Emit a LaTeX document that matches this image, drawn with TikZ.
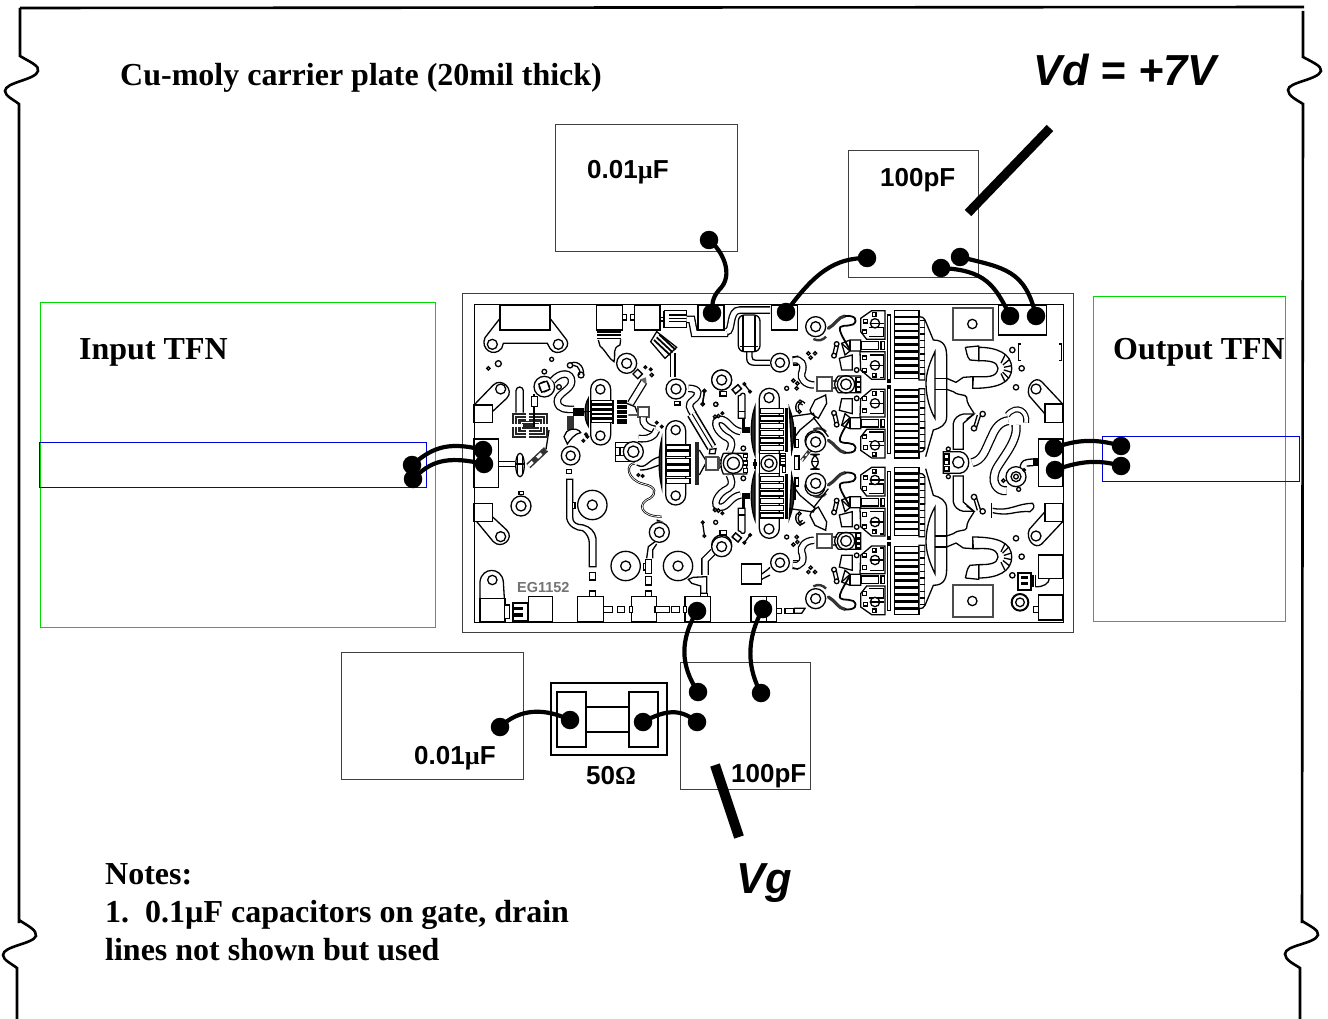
\documentclass[tikz,border=0pt]{standalone}
\usepackage{fontspec}
\setmainfont{Liberation Serif}
\setsansfont{Liberation Sans}
\begin{document}
\newcommand\Ser[1]{\fontsize{#1}{#1}\selectfont\bfseries\rmfamily}
\newcommand\San[1]{\fontsize{#1}{#1}\selectfont\bfseries\sffamily}
\newcommand\Via[3]{\draw[cl,fill=white] (#1,#2) circle(#3); \draw[cl] (#1,#2) circle({#3/2});}
\newcommand\Dt[3]{\draw[cl,fill=white] (#1,#2) circle(#3);}
\newcommand\Bx[4]{\draw[cl,fill=white] (#1,#2) rectangle (#3,#4);}
\newcommand\Gbx[4]{\draw[cl,fill=white,line width=2pt,draw=black!70] (#1,#2) rectangle (#3,#4);}
\newcommand\Qcell{%
  \foreach \i in {0,...,9}{\draw[cl,fill=white] (373,{62+\i*20.8}) rectangle (447,{79+\i*20.8});}
  \draw[cl,fill=white] (447,80) -- (458,82) -- (465,90) -- (465,270) -- (447,270) -- cycle;
  \foreach \i in {0,...,8}{\draw[cl] (450,{92+\i*20}) -- (465,{92+\i*20});}
  \draw[cl] (352,75) rectangle (362,270);
  \fill (352,272) rectangle (362,280);
  \draw[cl,fill=white] (305,62) -- (345,62) -- (345,148) -- (290,148) -- (272,125) -- (272,85) -- cycle;
  \draw[cl] (298,112) -- (340,112) -- (340,140) -- (298,140);
  \Bx{307}{68}{318}{79}\Bx{281}{88}{292}{99}\Bx{278}{120}{289}{131}
  \draw[cl,fill=white] (315,100) circle(14); \draw[cl] (301,100) -- (342,100);
  \draw[cl,fill=white] (270,185) -- (345,185) -- (345,268) -- (305,268) -- (272,240) -- cycle;
  \draw[cl] (300,195) -- (340,195) -- (340,262) -- (330,262);
  \Bx{278}{198}{289}{209}\Bx{278}{235}{289}{246}\Bx{307}{250}{318}{261}
  \draw[cl,fill=white] (315,226) circle(14); \draw[cl] (301,226) -- (342,226);
  \Bx{275}{155}{325}{178}\Bx{333}{155}{343}{178}
  \draw[cl,fill=white] (215,160) -- (240,150) -- (272,150) -- (272,183) -- (240,183) -- (225,195) -- cycle;
  \draw[cl] (240,150) -- (240,183);
  \draw[cl,fill=white] (208,205) -- (247,195) -- (247,240) -- (215,240) -- cycle;
  \draw[cl] (215,160) -- (240,183);
  \draw[line width=3.2pt,black!80,line cap=round] (175,115) .. controls (195,105) and (205,80) .. (225,78);
  \draw[cl,line width=1.8pt] (225,78) .. controls (255,75) and (265,90) .. (250,103) .. controls (230,112) and (205,100) .. (210,122) .. controls (215,140) and (230,160) .. (240,180);
  \Via{137}{110}{30}
  \draw[line width=2.4pt,black!80] (130,147) .. controls (145,155) and (160,150) .. (168,140);
  \draw[cl] (195,165) -- (188,195); \draw[cl] (205,168) -- (198,198);
  \Dt{200}{162}{7}\Dt{192}{197}{7}
}
\newcommand\CenterCell{%
  \Gbx{140}{262}{185}{304}
  \draw[cl,line width=2pt,draw=black!70] (185,272) -- (200,272); \draw[cl,line width=2pt,draw=black!70] (185,295) -- (200,295);
  \draw[cl] (205,258) -- (272,258) -- (272,308) -- (205,308) .. controls (190,290) and (190,275) .. (205,258);
  \draw[cl] (228,283) circle(26); \draw[cl] (228,283) circle(16);
  \Bx{258}{262}{271}{274}\Bx{258}{277}{271}{289}\Bx{258}{293}{271}{305}
  \Dt{260}{240}{7}\Dt{260}{325}{7}
  \Via{30}{218}{28}
  \draw[dbl] (68,210) .. controls (95,205) and (105,225) .. (95,250) .. controls (90,265) and (105,285) .. (132,285);
  \draw[cl] (68,203) -- (85,198); \draw[cl] (68,225) -- (85,225);
  \Dt{115}{190}{5}\Dt{122}{203}{5}\Dt{135}{190}{5}\Dt{50}{295}{6}\Dt{70}{272}{5}\Dt{82}{280}{5}\Dt{80}{295}{5}
}
\newcommand\OutHalf{%
  \draw[cl,fill=white] (465,90) -- (490,150) .. controls (525,150) and (530,175) .. (530,200) -- (530,380) .. controls (530,405) and (510,415) .. (490,420) -- (467,500);
  \draw[cl,fill=white] (495,185) .. controls (480,215) and (468,250) .. (468,280) .. controls (468,320) and (480,360) .. (495,385) -- cycle;
  \draw[cl] (495,265) -- (530,265); \draw[cl] (495,298) -- (530,298);
  \draw[cl] (530,265) -- (558,277) -- (580,262) -- (610,260);
  \draw[cl] (530,298) -- (550,305) .. controls (570,320) and (585,310) .. (590,322) .. controls (590,340) and (600,350) .. (612,370);
  \draw[cl] (608,260) -- (608,295);
  \draw[cl,fill=white] (610,260) .. controls (650,260) and (680,265) .. (684,235) .. controls (682,215) and (660,212) .. (626,212) -- (626,172) .. controls (680,172) and (725,190) .. (725,235) .. controls (725,280) and (680,295) .. (608,295) -- cycle;
  \draw[cl,fill=white] (586,172) -- (626,168) -- (626,212) -- (600,210) .. controls (590,200) and (590,185) .. (586,172);
  \foreach \a in {-60,-35,-10,15,40,60}{\draw[cl] ({684+18*cos(\a)},{235+18*sin(\a)}) -- ({684+41*cos(\a)},{235+45*sin(\a)});}
  \draw[cl,fill=white] (550,478) -- (550,400) .. controls (552,385) and (565,375) .. (580,372) -- (612,372) -- (580,400) -- (580,478) -- cycle;
  \draw[cl] (612,372) -- (590,388);
  \draw[cl] (622,375) -- (610,415); \draw[cl] (632,375) -- (618,418);
  \Dt{638}{372}{8}\Dt{612}{415}{8}
}
\begin{tikzpicture}[x=1pt,y=-1pt,
  cl/.style={line width=1.3pt,draw=black},
  dbl/.style={draw=black,line width=1.3pt,double=white,double distance=5pt},
  frameline/.style={line width=2.6pt,draw=black},
  thinbox/.style={line width=0.6pt,draw=black!75},
  gbox/.style={line width=0.7pt,draw=green!85!black},
  bbox/.style={line width=0.7pt,draw=blue!85!black},
  ball/.style={circle,fill=black,inner sep=0pt,minimum size=18.5pt},
  bond/.style={line width=4.2pt,draw=black},
  stub/.style={line width=9pt,draw=black}]
\useasboundingbox (0,0) rectangle (1328,1019);
\fill[white] (0,0) rectangle (1328,1019);
\draw[frameline] (20,8) -- (1304,7);
\draw[frameline] (20,8) -- (20,56) .. controls (30,62) and (40,66) .. (38,71) .. controls (36,80) and (5,82) .. (5,91) .. controls (5,96) and (14,100) .. (19,104) -- (19,923);
\draw[frameline] (19,920) .. controls (28,926) and (37,930) .. (36,936) .. controls (33,944) and (3,946) .. (3,955) .. controls (3,960) and (12,964) .. (17,968) -- (17,1019);
\draw[frameline] (1303,11) -- (1303,57) .. controls (1312,62) and (1322,66) .. (1321,71) .. controls (1318,80) and (1288,82) .. (1288,90) .. controls (1288,96) and (1297,100) .. (1303,104) -- (1302,923);
\draw[frameline] (1302,921) .. controls (1310,926) and (1319,930) .. (1318,935) .. controls (1315,944) and (1285,945) .. (1285,954) .. controls (1285,960) and (1294,964) .. (1300,968) -- (1300,1019);
\begin{scope}[shift={(-0.5,-0.5)}]
\draw[gbox] (41,303) rectangle (436,628);
\draw[gbox] (1094,297) rectangle (1286,622);
\draw[thinbox] (556,125) rectangle (738,252);
\draw[thinbox] (849,151) rectangle (979,278);
\draw[thinbox] (342,653) rectangle (524,780);
\draw[thinbox] (681,663) rectangle (811,790);
\draw[thinbox,line width=1pt] (463,294) rectangle (1074,633);
\end{scope}
\draw[cl,line width=0.8pt] (474,304) rectangle (1063,622);
% zone A
\begin{scope}[shift={(460,290)},x=0.33333pt,y=-0.33333pt]
\draw[cl] (120,85) -- (75,143) .. controls (60,175) and (100,205) .. (125,175) -- (130,160) -- (262,160) -- (270,175) .. controls (290,205) and (335,175) .. (320,150) -- (270,85);
\Bx{120}{45}{270}{120}
\draw[cl] (97,163) circle(15); \draw[cl] (295,163) circle(15);
\draw[cl] (42,345) -- (100,285) .. controls (125,260) and (165,300) .. (140,325) -- (97,365);
\Bx{42}{345}{97}{398}\draw[cl] (122,297) circle(15);
\draw[cl] (42,685) -- (100,755) .. controls (125,780) and (165,745) .. (140,720) -- (97,680);
\Bx{42}{640}{97}{695}\draw[cl] (122,740) circle(15);
\Bx{42}{447}{115}{592}
\Dt{85}{235}{5}\Dt{115}{221}{9}\Dt{275}{208}{6}\Dt{253}{245}{7}\Dt{297}{291}{7}\Dt{363}{255}{9}
\draw[cl] (115,515) -- (165,515); \draw[cl] (115,530) -- (165,530);
\draw[cl,fill=white] (180,525) ellipse (13 and 35);
\draw[line width=1.6pt] (172,495) -- (172,555); \draw[line width=1.6pt] (188,495) -- (188,555); \draw[cl] (165,522) -- (195,522);
\draw[line width=6pt,black!80] (205,528) -- (258,478);
\draw[line width=3pt,white,dash pattern=on 6pt off 6pt] (205,528) -- (258,478);
\draw[cl] (258,478) -- (267,420);
\fill[black!85] (155,368) rectangle (265,445);
\foreach \o in {8,18,28}{\draw[white,line width=0.5pt] ({155+\o},{368+\o}) rectangle ({265-\o},{445-\o});}
\fill[white] (198,368) rectangle (208,392); \fill[white] (198,418) rectangle (208,445); \fill[white] (155,402) rectangle (190,412); \fill[white] (225,402) rectangle (265,412);
\draw[cl] (168,368) -- (168,302) arc(180:360:11) -- (190,368);
\draw[cl,fill=white] (215,320) rectangle (232,350);
\draw[cl] (222,312) -- (222,320); \draw[cl] (222,350) -- (222,410);
\Via{253}{290}{31}
\draw[cl,fill=white,rotate around={20:(253,290)}] (240,277) rectangle (266,303);
\draw[dbl] (278,272) .. controls (300,245) and (335,245) .. (335,275) .. controls (335,300) and (290,310) .. (292,335) .. controls (295,360) and (320,358) .. (342,358);
\draw[cl] (325,225) .. controls (345,205) and (375,225) .. (370,255);
\draw[cl] (325,233) .. controls (345,215) and (365,235) .. (358,255);
\Dt{330}{226}{8}
\fill (338,355) rectangle (372,378);
\draw[cl,fill=black!80] (385,325) .. controls (372,345) and (372,390) .. (385,408) -- cycle;
\draw[cl] (372,365) -- (395,365);
\fill[black!80] (320,378) rectangle (342,420);
\draw[cl,fill=white] (320,425) .. controls (340,410) and (360,420) .. (362,428) .. controls (345,430) and (330,450) .. (322,462) -- (312,440) -- cycle;
\Dt{378}{433}{4}\Dt{370}{452}{4}\Dt{382}{440}{4}
\Via{332}{497}{28}
\Bx{320}{538}{335}{551}
\draw[cl,fill=white] (392,298) arc(180:360:30) -- (452,435) arc(0:180:30) -- cycle;
\draw[cl] (421,298) circle(14); \draw[cl] (421,437) circle(14);
\foreach \i in {0,...,4}{\draw[cl,fill=white] (393,{332+\i*14}) rectangle (458,{342+\i*14});}
\fill (455,330) rectangle (500,402);
\foreach \i in {1,...,4}{\draw[white,line width=0.5pt] (470,{330+\i*14}) -- (500,{330+\i*14});}
\fill[white] (463,330) rectangle (471,402);
\draw[cl] (500,340) -- (525,350) -- (535,375) -- (505,375);
\draw[dbl] (512,340) -- (552,275);
\fill[black!60] (540,268) -- (558,262) -- (560,285) -- cycle;
\Gbx{535}{350}{567}{380}
\draw[dbl] (550,382) .. controls (545,405) and (565,415) .. (585,418);
\draw[dbl] (535,445) .. controls (560,450) and (585,440) .. (590,420);
\Dt{590}{398}{4}\Dt{605}{410}{4}
\Dt{556}{232}{4}\Dt{572}{238}{4}\Dt{575}{255}{5}
\draw[cl,fill=white,rotate around={45:(533,252)}] (523,242) rectangle (543,262);
\Via{500}{220}{30}
\Bx{410}{45}{487}{120}
\draw[line width=2pt] (410,127) -- (482,127); \draw[line width=2pt] (410,135) -- (482,135); \draw[cl] (412,146) -- (482,146);
\draw[cl] (415,150) -- (420,168) .. controls (440,185) and (445,205) .. (462,215) .. controls (468,190) and (455,175) .. (480,165) -- (482,148);
\Bx{487}{74}{499}{90}\Bx{512}{74}{524}{90}\Bx{524}{45}{600}{120}
\Bx{600}{82}{612}{93}
\draw[cl] (612,62) -- (680,62) -- (680,75) -- (628,75); \draw[cl] (612,62) -- (612,112) -- (680,112) -- (680,95) -- (628,95);
\draw[cl] (628,85) -- (680,85);
\draw[dbl] (680,88) -- (695,88) -- (703,130) -- (795,130) -- (802,100);
\Bx{714}{45}{792}{120}
\draw[dbl] (800,125) .. controls (820,125) and (805,60) .. (840,60) -- (930,60);
\draw[cl,fill=white,rounded corners=6pt] (835,75) rectangle (900,185);
\draw[line width=2pt] (850,78) -- (850,183); \draw[line width=2pt] (885,78) -- (885,183); \draw[cl] (840,170) -- (895,170);
\draw[cl] (860,185) -- (860,205) .. controls (860,220) and (870,226) .. (885,226) -- (930,226);
\draw[cl] (876,185) -- (876,200) .. controls (876,208) and (880,211) .. (888,211) -- (930,211);
\draw[cl,fill=white] (572,155) -- (590,125) -- (650,172) -- (615,205) -- cycle;
\foreach \s in {0,1,2}{\draw[line width=1.8pt] ({582+\s*8},{150-\s*8}) -- ({630+\s*8},{195-\s*8});}
\draw[cl] (631,190) -- (631,262); \draw[cl] (645,190) -- (645,262);
\Via{648}{297}{30}\Via{785}{270}{30}
\Bx{643}{335}{660}{345}\Bx{780}{305}{799}{317}
\draw[dbl] (685,295) .. controls (720,295) and (720,315) .. (700,330) .. controls (680,345) and (690,355) .. (700,372);
\draw[dbl,line width=1.6pt,double distance=7pt] (695,372) -- (755,472);
\draw[line width=1pt] (697,373) -- (757,473);
\draw[cl,fill=white] (750,478) -- (768,476) -- (765,491) -- (748,491) -- cycle;
\Dt{733}{303}{5}\Dt{728}{342}{5}\draw[cl] (733,308) -- (728,338);
\Dt{768}{343}{6}
\draw[cl,fill=white] (520,457) -- (467,457) -- (467,515) -- (520,515);
\draw[cl] (467,472) -- (500,472); \draw[cl] (467,497) -- (500,497); \draw[cl] (480,472) -- (480,497); \draw[cl] (500,472) -- (500,497);
\draw[cl,fill=white] (520,485) circle(30); \draw[cl] (520,485) circle(17);
\draw[line width=2.2pt] (525,520) .. controls (495,520) and (500,570) .. (550,582) .. controls (590,590) and (590,610) .. (570,625) .. controls (530,640) and (540,680) .. (605,680);
\draw[white,line width=0.7pt] (525,520) .. controls (495,520) and (500,570) .. (550,582) .. controls (590,590) and (590,610) .. (570,625) .. controls (530,640) and (540,680) .. (605,680);
\draw[cl] (530,525) .. controls (560,540) and (560,510) .. (600,500);
\draw[cl] (540,540) .. controls (570,540) and (580,530) .. (600,525);
\Dt{535}{555}{4}\Dt{548}{558}{4}
\draw[cl,fill=white] (617,422) arc(180:360:30) -- (677,615) arc(0:180:30) -- cycle;
\draw[cl] (647,420) circle(14); \draw[cl] (647,617) circle(14);
\foreach \i in {0,...,5}{\draw[cl,fill=white] (618,{465+\i*20}) rectangle (690,{480+\i*20});}
\draw[cl,fill=black!85] (605,448) .. controls (595,490) and (595,550) .. (605,590) -- cycle;
\fill[black!85] (706,455) rectangle (718,585);
\draw[cl] (718,480) -- (740,515) -- (718,555);
\Gbx{742}{503}{778}{535}
\Via{598}{727}{30}
\fill[black] (590,688) -- (610,695) -- (590,695) -- cycle;
\draw[cl] (560,805) -- (565,770) -- (585,755); \draw[cl] (578,805) -- (578,780) -- (590,762);
\Bx{556}{808}{574}{850}\Bx{550}{820}{556}{840}
\Bx{556}{860}{574}{885}\Bx{556}{903}{574}{920}
\Bx{388}{848}{406}{870}\Bx{388}{903}{406}{920}
\draw[cl,fill=white] (320,568) -- (320,685) .. controls (325,710) and (350,722) .. (368,722) .. controls (380,730) and (388,745) .. (388,760) -- (388,830) -- (408,830) -- (408,745) .. controls (405,725) and (390,710) .. (370,705) -- (355,703) .. controls (345,700) and (338,695) .. (338,680) -- (338,568) -- cycle;
\Bx{338}{637}{345}{655}
\draw[cl,fill=white] (397,645) circle(44); \draw[cl] (397,645) circle(15);
\draw[cl,fill=white] (497,828) circle(44); \draw[cl] (497,828) circle(15);
\draw[cl,fill=white] (654,828) circle(44); \draw[cl] (654,828) circle(15);
\Via{785}{765}{30}
\draw[dbl] (760,785) -- (735,810) -- (735,855);
\draw[cl] (685,868) -- (700,862) -- (740,860) -- (740,910) -- (722,910) -- (722,888) -- (695,880) -- cycle;
\Bx{722}{910}{742}{920}
\Bx{845}{822}{905}{882}
\draw[cl] (905,852) .. controls (915,845) and (925,838) .. (930,832); \draw[cl] (905,868) -- (930,855);
\draw[cl,fill=white] (60,925) -- (60,875) .. controls (65,830) and (125,830) .. (130,875) -- (133,925);
\Bx{60}{925}{135}{995}
\draw[cl] (97,870) circle(14);
\Bx{205}{920}{278}{995}
\draw[line width=2.2pt,fill=white] (160,940) rectangle (205,992);
\fill (160,950) rectangle (190,960); \fill (160,970) rectangle (190,980);
\Bx{133}{945}{148}{985}
\node[text=black!55,inner sep=0pt] (egname) at (250,892) {\fontsize{14.5}{15}\selectfont\bfseries\sffamily EG1152};
\Bx{352}{920}{430}{995}\Bx{514}{920}{590}{995}\Bx{675}{920}{752}{995}\Bx{873}{920}{950}{995}
\Bx{430}{950}{458}{968}\Bx{472}{950}{494}{968}\Bx{508}{950}{518}{968}\Bx{585}{950}{628}{968}\Bx{635}{950}{658}{968}\Bx{670}{950}{680}{968}
\Via{183}{648}{30}\Bx{177}{605}{190}{613}
\end{scope}
% zone C
\begin{scope}[shift={(700,370)},x=0.33333pt,y=-0.33333pt]
\foreach \m in {0,1}{
\begin{scope}[shift={(0,560*\m)},yscale={1-2*\m}]
\draw[cl,fill=white] (178,250) -- (178,85) arc(180:360:30) -- (238,250);
\draw[cl] (207,83) circle(15);
\foreach \i in {0,...,5}{\draw[cl,fill=white] (180,{116+\i*22}) rectangle (250,{131+\i*22});}
\draw[cl,fill=black!85] (165,110) .. controls (150,150) and (150,215) .. (165,255) -- cycle;
\draw[cl,fill=black!85] (258,115) rectangle (262,245);
\draw[cl,fill=black!85] (268,115) .. controls (285,160) and (285,200) .. (275,245) -- cycle;
\draw[cl] (285,170) -- (285,235);
\draw[cl] (122,75) .. controls (122,68) and (135,68) .. (135,75) -- (135,145) -- (115,145) -- (115,78) -- cycle;
\draw[cl] (115,125) -- (135,125);
\fill (125,145) rectangle (135,172);
\fill (125,172) rectangle (150,190);
\draw[dbl] (122,185) .. controls (90,180) and (85,148) .. (60,148) .. controls (35,150) and (50,190) .. (85,205) .. controls (100,215) and (95,230) .. (88,245);
\draw[cl] (60,140) -- (40,145);
\Via{65}{30}{30}
\Bx{60}{65}{80}{78}
\draw[line width=1.5pt,fill=white,rotate around={40:(110,58)}] (99,50) rectangle (122,66);
\Dt{133}{42}{4}\Dt{150}{65}{4}\draw[cl] (133,42) -- (150,65);
\Dt{13}{62}{4}\Dt{8}{103}{4}\draw[cl] (13,66) -- (8,100);
\Dt{47}{103}{6}
\Dt{45}{140}{5}\Dt{55}{138}{5}\Dt{67}{130}{4}
\Dt{130}{235}{7}
\Via{345}{212}{30}
\end{scope}}
\draw[cl,fill=white] (178,250) rectangle (238,310);
\draw[cl] (207,280) circle(24); \draw[cl] (207,280) circle(13);
\draw[cl,fill=white] (240,250) rectangle (257,285);\foreach \o in {258,266,274}{\draw[cl] (240,\o) -- (257,\o);}
\draw[cl] (247,290) rectangle (257,308);
\Gbx{18}{262}{55}{300}
\draw[line width=2pt,draw=black!70] (55,270) -- (66,270); \draw[line width=2pt,draw=black!70] (55,292) -- (66,292);
\draw[cl,fill=white] (70,250) -- (140,250) -- (140,312) -- (70,312) .. controls (60,290) and (60,270) .. (70,250);
\draw[cl] (100,280) circle(30); \draw[cl] (100,280) circle(18);
\Bx{130}{252}{143}{263}\Bx{130}{273}{143}{285}\Bx{130}{295}{143}{307}
\draw[line width=2pt] (158,278) -- (172,278); \draw[line width=2pt] (158,285) -- (172,285); \fill (162,268) rectangle (168,296);
\draw[cl,fill=white] (283,258) rectangle (297,298);
\draw[cl,fill=white,rounded corners=8pt] (335,253) rectangle (355,298); \draw[cl] (335,275) -- (355,275);
\draw[line width=3.5pt,black!80] (305,272) -- (330,240);
\draw[white,line width=1.5pt,dash pattern=on 3pt off 3pt] (305,272) -- (330,240);
\end{scope}
% zone B
\begin{scope}[shift={(770,290)},x=0.33333pt,y=-0.33333pt]
\Bx{5}{45}{82}{120}
\Qcell
\begin{scope}[shift={(0,566)},yscale=-1]\Qcell\end{scope}
\begin{scope}[shift={(0,1036)},yscale=-1]\Qcell\end{scope}
\begin{scope}[shift={(0,470)}]\Qcell\end{scope}
\CenterCell
\begin{scope}[shift={(0,1036)},yscale=-1]\CenterCell\end{scope}
\OutHalf
\begin{scope}[shift={(0,1036)},yscale=-1]\OutHalf\end{scope}
\foreach \m in {0,1}{
\begin{scope}[shift={(0,1036*\m)},yscale={1-2*\m}]
\draw[cl,fill=white] (120,360) -- (135,330) -- (167,315) -- (170,340) -- (145,385) -- (125,372) -- cycle;
\draw[cl] (105,340) .. controls (90,322) and (70,340) .. (80,365);
\draw[cl] (98,345) .. controls (88,335) and (82,345) .. (86,358);
\Dt{90}{335}{5}\Dt{88}{365}{5}
\draw[cl] (60,380) -- (130,370) -- (135,382) -- (90,420) -- (75,440);
\draw[cl] (75,448) rectangle (85,472);
\draw[cl] (130,382) -- (175,440);
\end{scope}}
\Gbx{548}{55}{668}{150}\Gbx{548}{885}{668}{982}
\draw[cl] (607,102) circle(14); \draw[cl] (607,933) circle(14);
\Bx{685}{45}{830}{135}
\Dt{727}{180}{8}\Dt{755}{235}{8}\Dt{738}{292}{8}
\Dt{727}{856}{8}\Dt{755}{800}{8}\Dt{738}{745}{8}
\draw[line width=1.5pt] (752,162) -- (745,162) -- (745,212) -- (752,212);
\draw[line width=1.5pt] (868,162) -- (875,162) -- (875,212) -- (868,212);
\draw[cl] (825,372) -- (778,318) .. controls (765,290) and (795,255) .. (815,275) -- (878,342);
\Bx{825}{342}{878}{397}\draw[cl] (798,297) circle(15);
\draw[cl] (825,665) -- (778,718) .. controls (765,748) and (795,780) .. (815,762) -- (878,695);
\Bx{825}{640}{878}{695}\draw[cl] (798,738) circle(15);
\Bx{805}{447}{878}{590}
\draw[cl,fill=white] (520,485) -- (520,550) -- (570,550) .. controls (605,545) and (605,490) .. (570,485) -- cycle;
\draw[cl] (565,517) circle(17);
\Bx{522}{492}{537}{505}\Bx{522}{510}{537}{523}\Bx{522}{530}{537}{543}
\Dt{535}{477}{6}\Dt{535}{560}{6}
\draw[dbl,double distance=6.5pt] (606,518) .. controls (640,510) and (645,480) .. (665,440) .. controls (675,415) and (690,395) .. (715,392);
\draw[dbl,double distance=6.5pt] (738,405) .. controls (745,450) and (700,500) .. (680,535) .. controls (660,575) and (680,605) .. (710,602);
\draw[line width=6pt] (712,375) .. controls (740,340) and (775,365) .. (768,398);
\draw[white,line width=3.6pt] (712,375) .. controls (740,340) and (775,365) .. (768,398);
\draw[cl,fill=white] (738,560) circle(30); \draw[cl] (738,560) circle(15); \draw[cl] (738,560) circle(7);
\Dt{700}{572}{5}\Dt{746}{598}{6}\Dt{762}{540}{4}
\draw[cl] (750,530) .. controls (755,512) and (760,508) .. (790,507); \draw[cl] (770,528) -- (790,527);
\fill (790,505) rectangle (803,527);
\draw[line width=1.5pt] (665,640) -- (665,685);
\draw[cl] (668,655) .. controls (720,665) and (740,640) .. (788,640) .. controls (795,650) and (792,655) .. (780,665) .. controls (730,662) and (720,680) .. (668,668);
\Bx{805}{795}{878}{865}\Bx{805}{915}{878}{990}\Bx{790}{950}{805}{968}
\draw[line width=2pt] (790,855) -- (790,892); \draw[cl] (796,855) -- (796,892);
\draw[cl] (796,890) .. controls (820,892) and (838,880) .. (838,865);
\draw[line width=2.2pt,fill=white] (745,848) rectangle (782,900);
\fill (752,858) rectangle (775,866); \fill (752,876) rectangle (775,884);
\draw[cl,fill=white,line width=2pt] (750,937) circle(25); \draw[cl] (750,937) circle(13);
\Bx{-10}{920}{20}{995}\Bx{20}{955}{35}{970}\Bx{45}{955}{72}{970}
\draw[cl] (72,955) -- (105,955) -- (95,970) -- (72,970);
\end{scope}
% resistor
\draw[cl,line width=1.3pt] (551,683) rectangle (667,755);
\draw[cl,line width=1.3pt] (557,692) rectangle (586,747);
\draw[cl,line width=1.3pt] (629,692) rectangle (658,747);
\draw[cl,line width=1.3pt] (586,707) rectangle (629,732);
\draw[bbox] (39.5,442.5) rectangle (426.5,487.5);
\draw[bbox] (1102.5,436.5) rectangle (1299.5,481.5);
% bond wires
\node[ball] (w1a) at (709,240) {}; \node[ball] (w1b) at (712,313) {};
\draw[bond] (w1a.center) .. controls (722,250) and (735,275) .. (719,290) .. controls (712,298) and (712,305) .. (w1b.center);
\node[ball] (w2a) at (867,258) {}; \node[ball] (w2b) at (786,312) {};
\draw[bond] (w2a.center) .. controls (835,258) and (815,272) .. (w2b.center);
\node[ball] (w3a) at (941,268) {}; \node[ball] (w3b) at (1010,316) {};
\draw[bond] (w3a.center) .. controls (985,270) and (995,285) .. (w3b.center);
\node[ball] (w4a) at (960,257) {}; \node[ball] (w4b) at (1036,316) {};
\draw[bond] (w4a.center) .. controls (1005,268) and (1025,270) .. (w4b.center);
\node[ball] (w5a) at (412,465) {}; \node[ball] (w5b) at (483,450) {};
\draw[bond] (w5a.center) .. controls (430,450) and (445,440) .. (w5b.center);
\node[ball] (w6a) at (413,479) {}; \node[ball] (w6b) at (484,464) {};
\draw[bond] (w6a.center) .. controls (430,462) and (445,455) .. (w6b.center);
\node[ball] (w7a) at (1054,448) {}; \node[ball] (w7b) at (1121,446) {};
\draw[bond] (w7a.center) .. controls (1075,440) and (1095,438) .. (w7b.center);
\node[ball] (w8a) at (1055,470) {}; \node[ball] (w8b) at (1121,466) {};
\draw[bond] (w8a.center) .. controls (1075,463) and (1095,458) .. (w8b.center);
\node[ball] (w9a) at (697,611) {}; \node[ball] (w9b) at (698,692) {};
\draw[bond] (w9a.center) .. controls (680,640) and (680,665) .. (w9b.center);
\node[ball] (w10a) at (763,609) {}; \node[ball] (w10b) at (761,693) {};
\draw[bond] (w10a.center) .. controls (745,640) and (748,670) .. (w10b.center);
\node[ball] (w11a) at (570,720) {}; \node[ball] (w11b) at (500,727) {};
\draw[bond] (w11a.center) .. controls (545,708) and (520,708) .. (w11b.center);
\node[ball] (w12a) at (643,722) {}; \node[ball] (w12b) at (697,722) {};
\draw[bond] (w12a.center) .. controls (665,710) and (680,708) .. (w12b.center);
\coordinate (vdA) at (968,213); \coordinate (vdB) at (1050,128);
\draw[stub] (vdA) -- (vdB);
\coordinate (vgA) at (715,765); \coordinate (vgB) at (739,837);
\draw[stub,line width=10pt] (vgA) -- (vgB);
% text
\node[anchor=west,inner sep=0pt] (t1) at (120,78) {\Ser{32}Cu-moly carrier plate (20mil thick)};
\node[anchor=west,inner sep=0pt] (t2) at (1033,70) {\San{43.4}\itshape Vd = +7V};
\node[anchor=west,inner sep=0pt] (t3) at (587,172) {\San{26}0.01{\Ser{26}µ}F};
\node[anchor=west,inner sep=0pt] (t4) at (880,180) {\San{26}100pF};
\node[anchor=west,inner sep=0pt] (t5) at (79,352) {\Ser{32}Input TFN};
\node[anchor=west,inner sep=0pt] (t6) at (1113,352) {\Ser{32}Output TFN};
\node[anchor=west,inner sep=0pt] (t7) at (414,758) {\San{26}0.01{\Ser{26}µ}F};
\node[anchor=west,inner sep=0pt] (t8) at (586,776) {\San{26}50{\Ser{26}Ω}};
\node[anchor=west,inner sep=0pt] (t9) at (731,776) {\San{26}100pF};
\node[anchor=west,inner sep=0pt] (t10) at (736,883) {\San{43.4}\itshape Vg};
\node[anchor=west,inner sep=0pt] (t11) at (105,874) {\Ser{32}Notes:};
\node[anchor=west,inner sep=0pt] (t12) at (105,915) {\Ser{32}1.\ \ 0.1µF capacitors on gate, drain};
\node[anchor=west,inner sep=0pt] (t13) at (105,950) {\Ser{32}lines not shown but used};
\end{tikzpicture}
\end{document}
